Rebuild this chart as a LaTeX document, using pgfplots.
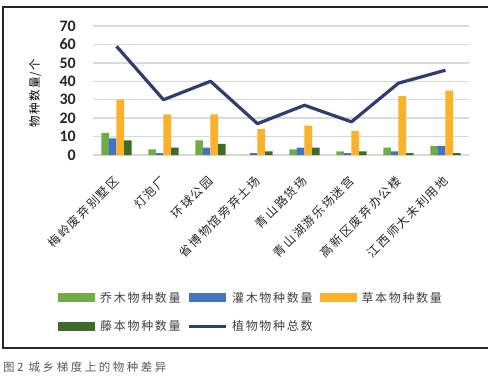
\documentclass[border=0pt]{standalone}
\usepackage{pgfplots}
\pgfplotsset{compat=1.18}
\usepackage{pgfplotstable}
\usepackage{fontspec}
\setmainfont{Carlito}
\newfontfamily\cjkleg[LetterSpace=14]{Noto Sans CJK SC}
\newfontfamily\cjkx[LetterSpace=14]{Noto Sans CJK SC}
\newfontfamily\cjkcap[LetterSpace=22]{Noto Sans CJK SC}
\newfontfamily\cjky[LetterSpace=12]{Noto Sans CJK SC}
\definecolor{cqiao}{HTML}{70AD47}
\definecolor{cguan}{HTML}{4472C4}
\definecolor{ccao}{HTML}{FBB22A}
\definecolor{cteng}{HTML}{3E6B2A}
\definecolor{ctot}{HTML}{2E3D72}
\definecolor{cgrid}{HTML}{D9D9D9}
\pgfplotstableread{
x qiao guan cao teng total
0 12 9 30 8 59
1 3 1 22 4 30
2 8 4 22 6 40
3 0 1 14 2 17
4 3 4 16 4 27
5 2 1 13 2 18
6 4 2 32 1 39
7 5 5 35 1 46
}\data
\begin{document}
\begin{tikzpicture}
\useasboundingbox (0pt,0pt) rectangle (488pt,-377pt);
\draw[line width=1.3pt, black!85] (3pt,-7pt) rectangle (495pt,-348pt);
\node[anchor=west, text=black!65, inner sep=0pt] at (3pt,-367pt) {\cjkcap\fontsize{11.5}{13}\selectfont 图2 城乡梯度上的物种差异};
\begin{axis}[
  at={(93pt,-155pt)}, anchor=south west,
  scale only axis, width=376pt, height=129pt,
  xmin=-0.5, xmax=7.5, ymin=0, ymax=70,
  ybar=0pt, bar width=7.6pt,
  axis line style={draw=none},
  major tick length=0pt,
  ytick={0,10,...,70},
  ymajorgrids, major grid style={color=cgrid, line width=1.3pt},
  xtick={0,...,7},
  xticklabels={梅岭废弃别墅区,灯泡厂,环球公园,省博物馆旁弃土场,青山路货场,青山湖游乐场迷宫,高新区废弃办公楼,江西师大未利用地},
  xticklabel style={font=\cjkx\fontsize{12}{14}\selectfont, text=black!85, inner sep=0pt, xshift=0.5pt, yshift=-23.5pt, rotate=45, anchor=east},
  /pgf/number format/assume math mode=true,
  yticklabel style={font=\bfseries\fontsize{16}{16}\selectfont, text=black!85, anchor=east, inner sep=0pt, xshift=-17pt},
  every axis y label/.style={at={(rel axis cs:-0.1543,0.48)}, rotate=90, anchor=center},
  ylabel={\cjky\fontsize{11.5}{13}\selectfont 物种数量/个},
  legend columns=3,
  legend style={at={(-0.093,-1.06)}, anchor=north west, draw=none, fill=none, inner sep=0pt,
    font=\cjkleg\fontsize{12}{14}\selectfont, text=black!75,
    nodes={inner sep=0pt},
    row sep=17pt,
    /tikz/every odd column/.append style={column sep=5pt},
    /tikz/every even column/.append style={column sep=7pt}},
]
\addplot[fill=cqiao, draw=none, legend image code/.code={\fill[cqiao] (0pt,-4.5pt) rectangle (37pt,4.5pt);}] table[x=x, y=qiao] {\data};
\addlegendentry{乔木物种数量}
\addplot[fill=cguan, draw=none, legend image code/.code={\fill[cguan] (0pt,-4.5pt) rectangle (37pt,4.5pt);}] table[x=x, y=guan] {\data};
\addlegendentry{灌木物种数量}
\addplot[fill=ccao, draw=none, legend image code/.code={\fill[ccao] (0pt,-4.5pt) rectangle (37pt,4.5pt);}] table[x=x, y=cao] {\data};
\addlegendentry{草本物种数量}
\addplot[fill=cteng, draw=none, legend image code/.code={\fill[cteng] (0pt,-4.5pt) rectangle (37pt,4.5pt);}] table[x=x, y=teng] {\data};
\addlegendentry{藤本物种数量}
\addplot[sharp plot, draw=ctot, line width=3.2pt, line join=round, mark=none, legend image code/.code={\draw[ctot, line width=2.5pt] (0pt,0pt) -- (37pt,0pt);}] table[x=x, y=total] {\data};
\addlegendentry{植物物种总数}
\end{axis}
\end{tikzpicture}
\end{document}
